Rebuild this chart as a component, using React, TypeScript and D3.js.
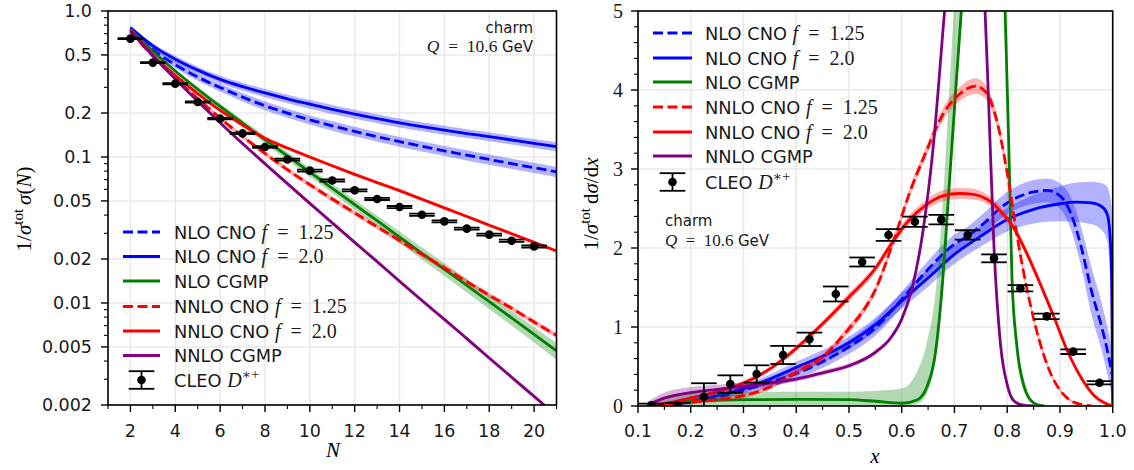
import React from "react";
import * as d3 from "d3";

// ---------------- LEFT PANEL DATA (Mellin moments) ----------------
const N_GRID = [2, 3, 4, 5, 6, 7, 8, 9, 10, 11, 12, 13, 14, 15, 16, 17, 18, 19, 20, 21];
const L_NLO_CNO_125 = [0.75, 0.543, 0.4287, 0.3528, 0.299, 0.2571, 0.2246, 0.1997, 0.1797, 0.1635, 0.1497, 0.1378, 0.1274, 0.1184, 0.1102, 0.1029, 0.0962, 0.09, 0.0844, 0.0791];
const L_NLO_CNO_20 = [0.77, 0.5775, 0.4677, 0.3937, 0.3404, 0.3034, 0.2746, 0.2504, 0.23, 0.2122, 0.1967, 0.1833, 0.1714, 0.1614, 0.1527, 0.1448, 0.1377, 0.1307, 0.1241, 0.1178];
const L_NLO_CGMP = [0.75, 0.5297, 0.3881, 0.2911, 0.2218, 0.1706, 0.1313, 0.1016, 0.0787, 0.061, 0.0472, 0.0366, 0.0283, 0.0219, 0.017, 0.0132, 0.0102, 0.0079, 0.0061, 0.0047];
const L_NNLO_CNO_125 = [0.72, 0.4903, 0.3467, 0.2512, 0.1846, 0.1384, 0.1057, 0.0818, 0.0646, 0.0515, 0.0414, 0.0332, 0.0268, 0.0215, 0.0174, 0.014, 0.0113, 0.0092, 0.0074, 0.006];
const L_NNLO_CNO_20 = [0.74, 0.5004, 0.3623, 0.2717, 0.2083, 0.1655, 0.1345, 0.1151, 0.0999, 0.087, 0.076, 0.0668, 0.0588, 0.0513, 0.0448, 0.0391, 0.0341, 0.0298, 0.026, 0.0227];
const L_NNLO_CGMP = [0.73, 0.4939, 0.3423, 0.2408, 0.1718, 0.1236, 0.0899, 0.0657, 0.0481, 0.0354, 0.026, 0.0192, 0.0141, 0.0104, 0.00772, 0.0057, 0.0042, 0.0031, 0.00229, 0.00169];
// relative half-widths of the uncertainty bands
const L_BAND_NLO_CNO_125 = [0.03, 0.04, 0.05, 0.055, 0.06, 0.065, 0.07, 0.07, 0.072, 0.074, 0.075, 0.076, 0.077, 0.078, 0.079, 0.08, 0.08, 0.08, 0.08, 0.08];
const L_BAND_NLO_CNO_20 = [0.03, 0.04, 0.05, 0.055, 0.06, 0.062, 0.065, 0.067, 0.068, 0.07, 0.07, 0.07, 0.07, 0.07, 0.07, 0.07, 0.07, 0.07, 0.07, 0.07];
const L_BAND_NLO_CGMP = [0.02, 0.025, 0.03, 0.04, 0.05, 0.055, 0.06, 0.065, 0.07, 0.075, 0.08, 0.085, 0.09, 0.095, 0.1, 0.105, 0.11, 0.115, 0.12, 0.13];
const L_BAND_NNLO_CNO_125 = [0.02, 0.025, 0.03, 0.03, 0.035, 0.035, 0.04, 0.04, 0.04, 0.04, 0.04, 0.04, 0.04, 0.04, 0.04, 0.04, 0.04, 0.04, 0.04, 0.04];
const L_BAND_NNLO_CNO_20 = [0.02, 0.02, 0.025, 0.025, 0.025, 0.025, 0.025, 0.025, 0.025, 0.025, 0.025, 0.025, 0.025, 0.025, 0.025, 0.025, 0.025, 0.025, 0.025, 0.025];
const L_BAND_NNLO_CGMP = [0.02, 0.02, 0.025, 0.025, 0.03, 0.03, 0.03, 0.03, 0.03, 0.03, 0.03, 0.03, 0.03, 0.03, 0.03, 0.03, 0.03, 0.03, 0.03, 0.03];

const L_CLEO_N = [2, 3, 4, 5, 6, 7, 8, 9, 10, 11, 12, 13, 14, 15, 16, 17, 18, 19, 20];
const L_CLEO_Y = [0.647, 0.443, 0.318, 0.238, 0.183, 0.145, 0.117, 0.096, 0.0806, 0.069, 0.0591, 0.0516, 0.0454, 0.0402, 0.0362, 0.0323, 0.0294, 0.0267, 0.0244];
const L_CLEO_ERR = [0.005, 0.004, 0.003, 0.0025, 0.002, 0.0018, 0.0016, 0.0014, 0.0012, 0.0011, 0.00095, 0.00085, 0.00075, 0.00066, 0.0006, 0.00054, 0.00049, 0.00045, 0.00041];

const L_X_TICKS = [2, 4, 6, 8, 10, 12, 14, 16, 18, 20];
const L_X_MINOR = [1, 3, 5, 7, 9, 11, 13, 15, 17, 19, 21];
const L_Y_TICKS = [1.0, 0.5, 0.2, 0.1, 0.05, 0.02, 0.01, 0.005, 0.002];
const L_Y_TICK_LABELS = ["1.0", "0.5", "0.2", "0.1", "0.05", "0.02", "0.01", "0.005", "0.002"];

// ---------------- RIGHT PANEL DATA (x space) ----------------
const R_NLO_CNO_125_X = [0.12, 0.15, 0.2, 0.25, 0.3, 0.35, 0.4, 0.45, 0.5, 0.55, 0.6, 0.65, 0.7, 0.725, 0.75, 0.8, 0.85, 0.875, 0.9, 0.92, 0.94, 0.96, 0.98, 0.99, 1.0];
const R_NLO_CNO_125_Y = [0, 0.02, 0.05, 0.11, 0.2, 0.3, 0.41, 0.56, 0.75, 0.99, 1.35, 1.73, 2.05, 2.15, 2.28, 2.57, 2.71, 2.73, 2.66, 2.45, 2.02, 1.45, 0.98, 0.7, 0.36];
const R_NLO_CNO_125_BW = [0.01, 0.02, 0.03, 0.04, 0.05, 0.06, 0.07, 0.08, 0.09, 0.1, 0.1, 0.11, 0.12, 0.12, 0.13, 0.14, 0.15, 0.15, 0.16, 0.2, 0.25, 0.3, 0.3, 0.3, 0.3];

const R_NLO_CNO_20_X = [0.12, 0.15, 0.2, 0.25, 0.3, 0.35, 0.4, 0.45, 0.5, 0.55, 0.6, 0.65, 0.7, 0.75, 0.8, 0.85, 0.9, 0.93, 0.96, 0.98, 0.99, 0.995, 0.998, 1.0];
const R_NLO_CNO_20_Y = [0, 0.02, 0.06, 0.13, 0.22, 0.34, 0.49, 0.63, 0.8, 1.03, 1.33, 1.62, 1.92, 2.15, 2.36, 2.49, 2.56, 2.58, 2.57, 2.52, 2.42, 2.15, 1.6, 0.0];
const R_NLO_CNO_20_BW = [0.01, 0.02, 0.03, 0.04, 0.05, 0.06, 0.07, 0.08, 0.08, 0.09, 0.1, 0.11, 0.12, 0.13, 0.15, 0.18, 0.22, 0.25, 0.27, 0.3, 0.35, 0.5, 0.9, 1.2];

const R_NLO_CGMP_X = [0.12, 0.15, 0.2, 0.3, 0.4, 0.5, 0.55, 0.6, 0.63, 0.647, 0.666, 0.678, 0.691, 0.704, 0.713, 0.73, 0.755, 0.78, 0.796, 0.803, 0.809, 0.818, 0.831, 0.85, 0.87];
const R_NLO_CGMP_Y = [0, 0.03, 0.06, 0.08, 0.085, 0.08, 0.06, 0.035, 0.08, 0.23, 0.78, 1.62, 2.89, 4.16, 5.0, 7.0, 8.0, 7.0, 5.0, 3.3, 1.62, 0.78, 0.27, 0.04, 0];
const R_NLO_CGMP_LO = [0, 0, 0, 0, 0, 0, 0, 0, 0.03, 0.15, 0.65, 1.45, 2.7, 3.95, 4.8, 6.8, 7.8, 6.8, 4.8, 3.1, 1.45, 0.65, 0.2, 0.02, 0];
const R_NLO_CGMP_HI = [0, 0.12, 0.17, 0.18, 0.18, 0.18, 0.19, 0.22, 0.45, 0.78, 1.55, 2.6, 4.1, 5.6, 6.5, 8.0, 8.3, 7.2, 5.2, 3.5, 1.8, 0.9, 0.35, 0.06, 0];

const R_NNLO_CNO_125_X = [0.12, 0.15, 0.2, 0.25, 0.3, 0.35, 0.4, 0.45, 0.5, 0.52, 0.55, 0.585, 0.615, 0.647, 0.678, 0.71, 0.74, 0.76, 0.78, 0.8, 0.82, 0.84, 0.86, 0.88, 0.9, 0.92, 0.94, 0.96];
const R_NNLO_CNO_125_Y = [0, 0.02, 0.05, 0.08, 0.13, 0.24, 0.43, 0.62, 0.98, 1.14, 1.47, 2.1, 2.7, 3.23, 3.69, 3.95, 4.05, 3.97, 3.62, 2.95, 2.1, 1.4, 0.85, 0.45, 0.2, 0.07, 0.02, 0];
const R_NNLO_CNO_125_BW = [0.01, 0.02, 0.02, 0.03, 0.03, 0.03, 0.04, 0.04, 0.05, 0.05, 0.05, 0.06, 0.06, 0.07, 0.08, 0.09, 0.1, 0.09, 0.08, 0.07, 0.06, 0.05, 0.04, 0.03, 0.02, 0.02, 0.01, 0];

const R_NNLO_CNO_20_X = [0.12, 0.15, 0.2, 0.25, 0.3, 0.35, 0.4, 0.45, 0.5, 0.55, 0.583, 0.615, 0.647, 0.678, 0.71, 0.736, 0.761, 0.787, 0.812, 0.838, 0.863, 0.889, 0.914, 0.94, 0.965, 0.984, 1.0];
const R_NNLO_CNO_20_Y = [0, 0.03, 0.1, 0.18, 0.29, 0.47, 0.73, 1.04, 1.38, 1.74, 2.08, 2.36, 2.55, 2.66, 2.69, 2.68, 2.62, 2.47, 2.26, 1.92, 1.54, 1.12, 0.7, 0.36, 0.13, 0.04, 0];
const R_NNLO_CNO_20_BW = [0.01, 0.02, 0.02, 0.03, 0.03, 0.03, 0.04, 0.04, 0.05, 0.05, 0.05, 0.06, 0.06, 0.07, 0.07, 0.07, 0.06, 0.06, 0.05, 0.05, 0.05, 0.04, 0.04, 0.03, 0.02, 0.01, 0];

const R_NNLO_CGMP_X = [0.12, 0.15, 0.2, 0.25, 0.3, 0.35, 0.4, 0.45, 0.5, 0.55, 0.58, 0.6, 0.62, 0.64, 0.66, 0.68, 0.7, 0.72, 0.74, 0.755, 0.765, 0.775, 0.787, 0.8, 0.812, 0.83, 0.85];
const R_NNLO_CGMP_Y = [0.02, 0.1, 0.17, 0.21, 0.25, 0.29, 0.34, 0.42, 0.51, 0.68, 0.87, 1.1, 1.5, 2.2, 3.3, 4.9, 6.5, 7.5, 7.0, 5.5, 3.8, 2.0, 0.8, 0.27, 0.07, 0.01, 0];
const R_NNLO_CGMP_BW = [0.04, 0.07, 0.07, 0.06, 0.05, 0.04, 0.03, 0.03, 0.03, 0.03, 0.03, 0.03, 0.03, 0.04, 0.05, 0.06, 0.07, 0.07, 0.07, 0.06, 0.05, 0.04, 0.03, 0.02, 0.01, 0, 0];

const R_CLEO_X = [0.125, 0.175, 0.225, 0.275, 0.325, 0.375, 0.425, 0.475, 0.525, 0.575, 0.625, 0.675, 0.725, 0.775, 0.825, 0.875, 0.925, 0.975];
const R_CLEO_Y = [0.01, 0.01, 0.118, 0.278, 0.405, 0.646, 0.844, 1.418, 1.823, 2.165, 2.333, 2.359, 2.165, 1.869, 1.49, 1.135, 0.688, 0.295];
const R_CLEO_ERR = [0.02, 0.03, 0.17, 0.11, 0.11, 0.115, 0.085, 0.095, 0.057, 0.074, 0.065, 0.06, 0.06, 0.05, 0.04, 0.035, 0.03, 0.02];

const R_X_TICKS = [0.1, 0.2, 0.3, 0.4, 0.5, 0.6, 0.7, 0.8, 0.9, 1.0];
const R_X_TICK_LABELS = ["0.1", "0.2", "0.3", "0.4", "0.5", "0.6", "0.7", "0.8", "0.9", "1.0"];
const R_X_MINOR = [0.15, 0.25, 0.35, 0.45, 0.55, 0.65, 0.75, 0.85, 0.95];
const R_Y_TICKS = [0, 1, 2, 3, 4, 5];
const R_Y_TICK_LABELS = ["0", "1", "2", "3", "4", "5"];

// ---------------- STYLE ----------------
const SANS = "'DejaVu Sans', sans-serif";
const SERIF = "'Liberation Serif', 'DejaVu Serif', serif";
const BLUE = "#0000ff";
const GREEN = "#008000";
const RED = "#ff0000";
const PURPLE = "#800080";
const DASH = "10,4.5";
const LW = 2.8;
const GRID = "#e8e8e8";

const LX0 = 108, LX1 = 556.5, LY0 = 11, LY1 = 405;
const RX0 = 638, RX1 = 1112.7, RY0 = 11, RY1 = 406;

type Lbl = { pre: string; f?: string; cleo?: boolean };
const LABELS: Lbl[] = [
  { pre: "NLO CNO ", f: "1.25" },
  { pre: "NLO CNO ", f: "2.0" },
  { pre: "NLO CGMP" },
  { pre: "NNLO CNO ", f: "1.25" },
  { pre: "NNLO CNO ", f: "2.0" },
  { pre: "NNLO CGMP" },
  { pre: "CLEO ", cleo: true },
];
const STYLES = [
  { color: BLUE, dash: true },
  { color: BLUE, dash: false },
  { color: GREEN, dash: false },
  { color: RED, dash: true },
  { color: RED, dash: false },
  { color: PURPLE, dash: false },
];

function LegendText({ x, y, l }: { x: number; y: number; l: Lbl }) {
  return (
    <text x={x} y={y} fontFamily={SANS} fontSize={17.8} fill="#1a1a1a" style={{ whiteSpace: "pre" }}>
      {l.pre}
      {l.f && (
        <tspan fontFamily={SERIF} fontSize={20}>
          <tspan fontStyle="italic">f</tspan>
          {"\u2002=\u2002" + l.f}
        </tspan>
      )}
      {l.cleo && (
        <tspan fontFamily={SERIF} fontSize={20}>
          <tspan fontStyle="italic">D</tspan>
          <tspan dy={-8} fontSize={14}>{"\u2217+"}</tspan>
        </tspan>
      )}
    </text>
  );
}

function ErrMark({ cx, cy, yTop, yBot, cap }: { cx: number; cy: number; yTop: number; yBot: number; cap: number }) {
  return (
    <g stroke="#000" strokeWidth={1.8}>
      <line x1={cx} x2={cx} y1={yTop} y2={yBot} />
      <line x1={cx - cap} x2={cx + cap} y1={yTop} y2={yTop} />
      <line x1={cx - cap} x2={cx + cap} y1={yBot} y2={yBot} />
      <circle cx={cx} cy={cy} r={4.3} fill="#000" stroke="none" />
    </g>
  );
}

function Legend({ x0, x1, xt, rows }: { x0: number; x1: number; xt: number; rows: number[] }) {
  return (
    <g>
      {LABELS.map((l, i) => {
        const y = rows[i];
        return (
          <g key={i}>
            {i < 6 ? (
              <line x1={x0} x2={x1} y1={y} y2={y} stroke={STYLES[i].color} strokeWidth={LW}
                strokeDasharray={STYLES[i].dash ? DASH : undefined} />
            ) : (
              <ErrMark cx={(x0 + x1) / 2} cy={y} yTop={y - 8.8} yBot={y + 8.8} cap={12.8} />
            )}
            <LegendText x={xt} y={y + 6.5} l={l} />
          </g>
        );
      })}
    </g>
  );
}

export default function App() {
  const xL = d3.scaleLinear().domain([1, 21]).range([LX0, LX1]);
  const yL = d3.scaleLog().domain([0.002, 1]).range([LY1, LY0]);
  const xR = d3.scaleLinear().domain([0.1, 1.0]).range([RX0, RX1]);
  const yR = d3.scaleLinear().domain([0, 5]).range([RY1, RY0]);

  const leftVals = [L_NLO_CNO_125, L_NLO_CNO_20, L_NLO_CGMP, L_NNLO_CNO_125, L_NNLO_CNO_20, L_NNLO_CGMP];
  const leftBands = [L_BAND_NLO_CNO_125, L_BAND_NLO_CNO_20, L_BAND_NLO_CGMP, L_BAND_NNLO_CNO_125, L_BAND_NNLO_CNO_20, L_BAND_NNLO_CGMP];

  const lineL = d3.line<number>().x((_, i) => xL(N_GRID[i])).y((d) => yL(d)).curve(d3.curveMonotoneX);
  const bandL = (vals: number[], bw: number[]) =>
    d3.area<number>()
      .x((_, i) => xL(N_GRID[i]))
      .y0((d, i) => yL(d * (1 - bw[i])))
      .y1((d, i) => yL(d * (1 + bw[i])))
      .curve(d3.curveMonotoneX)(vals) || "";

  const rightSeries = [
    { xs: R_NLO_CNO_125_X, ys: R_NLO_CNO_125_Y, lo: R_NLO_CNO_125_Y.map((v, i) => v - R_NLO_CNO_125_BW[i]), hi: R_NLO_CNO_125_Y.map((v, i) => v + R_NLO_CNO_125_BW[i]) },
    { xs: R_NLO_CNO_20_X, ys: R_NLO_CNO_20_Y, lo: R_NLO_CNO_20_Y.map((v, i) => v - R_NLO_CNO_20_BW[i]), hi: R_NLO_CNO_20_Y.map((v, i) => v + R_NLO_CNO_20_BW[i]) },
    { xs: R_NLO_CGMP_X, ys: R_NLO_CGMP_Y, lo: R_NLO_CGMP_LO, hi: R_NLO_CGMP_HI },
    { xs: R_NNLO_CNO_125_X, ys: R_NNLO_CNO_125_Y, lo: R_NNLO_CNO_125_Y.map((v, i) => v - R_NNLO_CNO_125_BW[i]), hi: R_NNLO_CNO_125_Y.map((v, i) => v + R_NNLO_CNO_125_BW[i]) },
    { xs: R_NNLO_CNO_20_X, ys: R_NNLO_CNO_20_Y, lo: R_NNLO_CNO_20_Y.map((v, i) => v - R_NNLO_CNO_20_BW[i]), hi: R_NNLO_CNO_20_Y.map((v, i) => v + R_NNLO_CNO_20_BW[i]) },
    { xs: R_NNLO_CGMP_X, ys: R_NNLO_CGMP_Y, lo: R_NNLO_CGMP_Y.map((v, i) => v - R_NNLO_CGMP_BW[i]), hi: R_NNLO_CGMP_Y.map((v, i) => v + R_NNLO_CGMP_BW[i]) },
  ];

  const lineR = (xs: number[], ys: number[]) =>
    d3.line<number>().x((_, i) => xR(xs[i])).y((d) => yR(d)).curve(d3.curveMonotoneX)(ys) || "";
  const bandR = (xs: number[], lo: number[], hi: number[]) =>
    d3.area<number>().x((_, i) => xR(xs[i])).y0((_, i) => yR(lo[i])).y1((_, i) => yR(hi[i])).curve(d3.curveMonotoneX)(xs) || "";

  const lMinorY = yL.ticks().filter((t) => !L_Y_TICKS.some((m) => Math.abs(m - t) < 1e-9));
  const rMinorY = d3.range(0, 5.0001, 0.2).filter((v) => Math.abs(v - Math.round(v)) > 1e-6);

  return (
    <svg width={1134} height={470} style={{ position: "absolute", left: 0, top: 0, background: "#fff" }}>
      <defs>
        <clipPath id="clipL"><rect x={LX0} y={LY0} width={LX1 - LX0} height={LY1 - LY0} /></clipPath>
        <clipPath id="clipR"><rect x={RX0} y={RY0} width={RX1 - RX0} height={RY1 - RY0} /></clipPath>
      </defs>
      <rect x={0} y={0} width={1134} height={470} fill="#fff" />

      {/* ---------- LEFT PANEL ---------- */}
      <g>
        {L_X_TICKS.map((t) => (
          <line key={"lgx" + t} x1={xL(t)} x2={xL(t)} y1={LY0} y2={LY1} stroke={GRID} strokeWidth={1.5} />
        ))}
        {L_Y_TICKS.map((t) => (
          <line key={"lgy" + t} x1={LX0} x2={LX1} y1={yL(t)} y2={yL(t)} stroke={GRID} strokeWidth={1.5} />
        ))}
        <g clipPath="url(#clipL)">
          {leftVals.map((vals, i) => (
            <g key={"ls" + i}>
              <path d={bandL(vals, leftBands[i])} fill={STYLES[i].color} fillOpacity={0.3} stroke="none" />
              <path d={lineL(vals) || ""} fill="none" stroke={STYLES[i].color} strokeWidth={LW}
                strokeDasharray={STYLES[i].dash ? DASH : undefined} />
            </g>
          ))}
          {L_CLEO_N.map((n, i) => (
            <ErrMark key={"lc" + i} cx={xL(n)} cy={yL(L_CLEO_Y[i])} yTop={yL(L_CLEO_Y[i] + L_CLEO_ERR[i])}
              yBot={yL(L_CLEO_Y[i] - L_CLEO_ERR[i])} cap={12.8} />
          ))}
        </g>
        <rect x={LX0} y={LY0} width={LX1 - LX0} height={LY1 - LY0} fill="none" stroke="#000" strokeWidth={1.6} />
        {L_X_TICKS.map((t) => (
          <g key={"lxt" + t}>
            <line x1={xL(t)} x2={xL(t)} y1={LY1} y2={LY1 + 7} stroke="#000" strokeWidth={1.4} />
            <text x={xL(t)} y={437} textAnchor="middle" fontFamily={SANS} fontSize={17.5} fill="#1a1a1a">{t}</text>
          </g>
        ))}
        {L_X_MINOR.map((t) => (
          <line key={"lxm" + t} x1={xL(t)} x2={xL(t)} y1={LY1} y2={LY1 + 4} stroke="#000" strokeWidth={1.1} />
        ))}
        {L_Y_TICKS.map((t, i) => (
          <g key={"lyt" + t}>
            <line x1={LX0 - 7} x2={LX0} y1={yL(t)} y2={yL(t)} stroke="#000" strokeWidth={1.4} />
            <text x={92} y={yL(t) + 6.3} textAnchor="end" fontFamily={SANS} fontSize={17.5} fill="#1a1a1a">{L_Y_TICK_LABELS[i]}</text>
          </g>
        ))}
        {lMinorY.map((t) => (
          <line key={"lym" + t} x1={LX0 - 4} x2={LX0} y1={yL(t)} y2={yL(t)} stroke="#000" strokeWidth={1.1} />
        ))}
        <text x={333} y={457} textAnchor="middle" fontFamily={SERIF} fontStyle="italic" fontSize={21}>N</text>
        <text transform="translate(31,209) rotate(-90)" textAnchor="middle" fontFamily={SERIF} fontSize={21}>
          1/<tspan fontStyle="italic">σ</tspan>
          <tspan dy={-8} fontSize={15}>tot</tspan>
          <tspan dy={8} dx={4} fontStyle="italic">σ</tspan>(<tspan fontStyle="italic">N</tspan>)
        </text>
        <text x={533} y={33} textAnchor="end" fontFamily={SANS} fontSize={15} fill="#1a1a1a">charm</text>
        <text x={533} y={52} textAnchor="end" fontFamily={SERIF} fontSize={17.5} fill="#1a1a1a" style={{ whiteSpace: "pre" }}>
          <tspan fontStyle="italic">Q</tspan>{"\u2002=\u200210.6 "}<tspan fontFamily={SANS} fontSize={15}>GeV</tspan>
        </text>
        <Legend x0={123} x1={160} xt={174} rows={[232, 256.5, 281, 306.5, 331, 355.5, 380]} />
      </g>

      {/* ---------- RIGHT PANEL ---------- */}
      <g>
        {R_X_TICKS.map((t) => (
          <line key={"rgx" + t} x1={xR(t)} x2={xR(t)} y1={RY0} y2={RY1} stroke={GRID} strokeWidth={1.5} />
        ))}
        {R_Y_TICKS.map((t) => (
          <line key={"rgy" + t} x1={RX0} x2={RX1} y1={yR(t)} y2={yR(t)} stroke={GRID} strokeWidth={1.5} />
        ))}
        <g clipPath="url(#clipR)">
          {rightSeries.map((s, i) => (
            <g key={"rs" + i}>
              <path d={bandR(s.xs, s.lo, s.hi)} fill={STYLES[i].color} fillOpacity={0.3} stroke="none" />
              <path d={lineR(s.xs, s.ys)} fill="none" stroke={STYLES[i].color} strokeWidth={LW}
                strokeDasharray={STYLES[i].dash ? DASH : undefined} />
            </g>
          ))}
          {R_CLEO_X.map((x, i) => (
            <ErrMark key={"rc" + i} cx={xR(x)} cy={yR(R_CLEO_Y[i])} yTop={yR(R_CLEO_Y[i] + R_CLEO_ERR[i])}
              yBot={yR(R_CLEO_Y[i] - R_CLEO_ERR[i])} cap={12.8} />
          ))}
        </g>
        <rect x={RX0} y={RY0} width={RX1 - RX0} height={RY1 - RY0} fill="none" stroke="#000" strokeWidth={1.6} />
        {R_X_TICKS.map((t, i) => (
          <g key={"rxt" + t}>
            <line x1={xR(t)} x2={xR(t)} y1={RY1} y2={RY1 + 7} stroke="#000" strokeWidth={1.4} />
            <text x={xR(t)} y={437} textAnchor="middle" fontFamily={SANS} fontSize={17.5} fill="#1a1a1a">{R_X_TICK_LABELS[i]}</text>
          </g>
        ))}
        {R_X_MINOR.map((t) => (
          <line key={"rxm" + t} x1={xR(t)} x2={xR(t)} y1={RY1} y2={RY1 + 4} stroke="#000" strokeWidth={1.1} />
        ))}
        {R_Y_TICKS.map((t, i) => (
          <g key={"ryt" + t}>
            <line x1={RX0 - 7} x2={RX0} y1={yR(t)} y2={yR(t)} stroke="#000" strokeWidth={1.4} />
            <text x={623} y={yR(t) + 6.5} textAnchor="end" fontFamily={SERIF} fontSize={20} fill="#1a1a1a">{R_Y_TICK_LABELS[i]}</text>
          </g>
        ))}
        {rMinorY.map((t) => (
          <line key={"rym" + t} x1={RX0 - 4} x2={RX0} y1={yR(t)} y2={yR(t)} stroke="#000" strokeWidth={1.1} />
        ))}
        <text x={875} y={463} textAnchor="middle" fontFamily={SERIF} fontStyle="italic" fontSize={21}>x</text>
        <text transform="translate(598,204) rotate(-90)" textAnchor="middle" fontFamily={SERIF} fontSize={21}>
          1/<tspan fontStyle="italic">σ</tspan>
          <tspan dy={-8} fontSize={15}>tot</tspan>
          <tspan dy={8} dx={4}>d</tspan><tspan fontStyle="italic">σ</tspan>/d<tspan fontStyle="italic">x</tspan>
        </text>
        <text x={665} y={226} fontFamily={SANS} fontSize={15} fill="#1a1a1a">charm</text>
        <text x={665} y={246} fontFamily={SERIF} fontSize={17} fill="#1a1a1a" style={{ whiteSpace: "pre" }}>
          <tspan fontStyle="italic">Q</tspan>{"\u2002=\u200210.6 "}<tspan fontFamily={SANS} fontSize={15}>GeV</tspan>
        </text>
        <Legend x0={653} x1={692} xt={705} rows={[33, 58, 82, 107, 132, 156, 182]} />
      </g>
    </svg>
  );
}
